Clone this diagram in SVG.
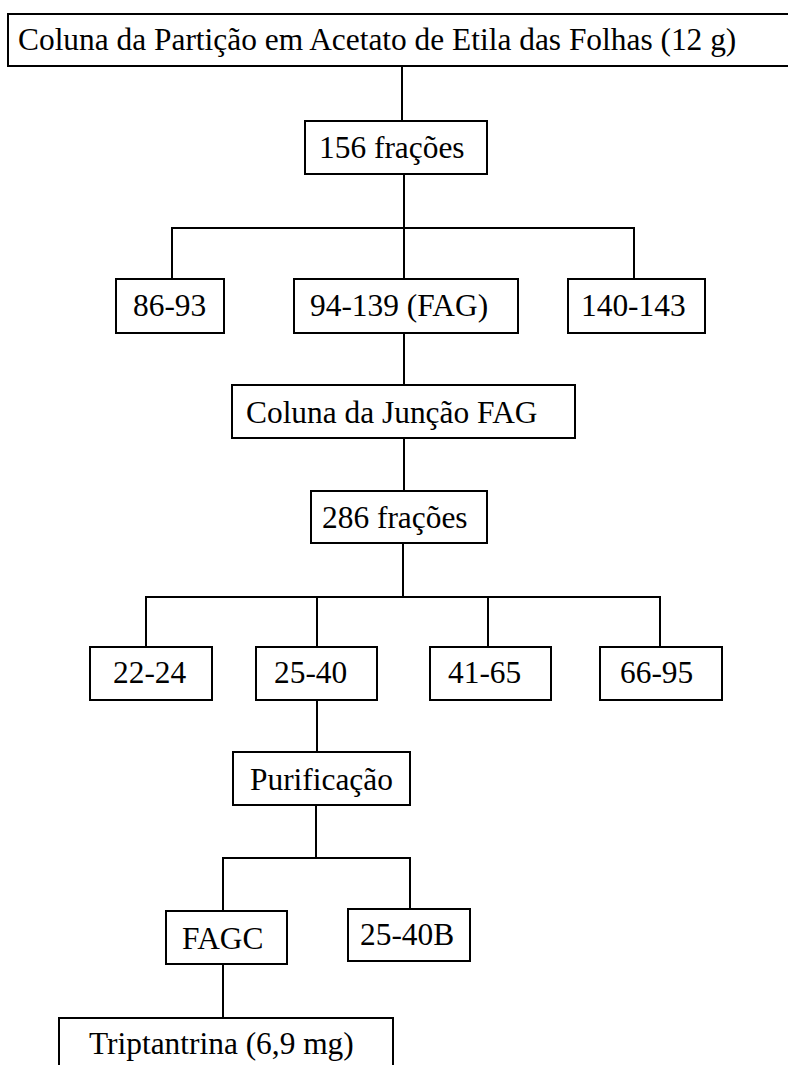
<svg xmlns="http://www.w3.org/2000/svg" width="788" height="1065" viewBox="0 0 788 1065">
  <style>
    .box { fill: #ffffff; stroke: #000000; stroke-width: 2; }
    .lbl { font-family: "Liberation Serif", "Times New Roman", serif; font-size: 31.4px; fill: #000000; }
    .wire { fill: none; stroke: #000000; stroke-width: 2; }
  </style>
  <rect x="0" y="0" width="788" height="1065" fill="#ffffff"/>

  <!-- connectors -->
  <g id="connectors" class="wire">
    <path d="M402 66 V121"/>
    <path d="M404 174 V279"/>
    <path d="M172 279 V228 H634 V279"/>
    <path d="M404 333 V385"/>
    <path d="M404 438 V491"/>
    <path d="M403 543 V597"/>
    <path d="M146 647 V597 H660 V647"/>
    <path d="M317 597 V647"/>
    <path d="M488 597 V647"/>
    <path d="M317 700 V752"/>
    <path d="M316 805 V858"/>
    <path d="M223 911 V858 H410 V909"/>
    <path d="M223 964 V1018"/>
  </g>

  <!-- nodes -->
  <g id="n-coluna-particao">
    <rect class="box" x="8" y="14" width="800" height="52"/>
    <text class="lbl" x="18" y="50">Coluna da Partição em Acetato de Etila das Folhas (12 g)</text>
  </g>
  <g id="n-156">
    <rect class="box" x="305" y="121" width="182" height="53"/>
    <text class="lbl" x="319" y="158">156 frações</text>
  </g>
  <g id="n-86-93">
    <rect class="box" x="116" y="279" width="108" height="54"/>
    <text class="lbl" x="133" y="316">86-93</text>
  </g>
  <g id="n-fag">
    <rect class="box" x="294" y="279" width="224" height="54"/>
    <text class="lbl" x="310" y="316">94-139 (FAG)</text>
  </g>
  <g id="n-140-143">
    <rect class="box" x="568" y="279" width="137" height="54"/>
    <text class="lbl" x="581" y="316">140-143</text>
  </g>
  <g id="n-juncao">
    <rect class="box" x="232" y="385" width="343" height="53"/>
    <text class="lbl" x="246" y="423">Coluna da Junção FAG</text>
  </g>
  <g id="n-286">
    <rect class="box" x="311" y="491" width="176" height="52"/>
    <text class="lbl" x="322" y="528">286 frações</text>
  </g>
  <g id="n-22-24">
    <rect class="box" x="90" y="647" width="122" height="53"/>
    <text class="lbl" x="113" y="683">22-24</text>
  </g>
  <g id="n-25-40">
    <rect class="box" x="256" y="647" width="121" height="53"/>
    <text class="lbl" x="274" y="683">25-40</text>
  </g>
  <g id="n-41-65">
    <rect class="box" x="430" y="647" width="121" height="53"/>
    <text class="lbl" x="448" y="683">41-65</text>
  </g>
  <g id="n-66-95">
    <rect class="box" x="600" y="647" width="122" height="53"/>
    <text class="lbl" x="620" y="683">66-95</text>
  </g>
  <g id="n-purificacao">
    <rect class="box" x="233" y="752" width="177" height="53"/>
    <text class="lbl" x="250" y="790">Purificação</text>
  </g>
  <g id="n-fagc">
    <rect class="box" x="166" y="911" width="121" height="53"/>
    <text class="lbl" x="182" y="949">FAGC</text>
  </g>
  <g id="n-25-40b">
    <rect class="box" x="348" y="909" width="122" height="52"/>
    <text class="lbl" x="360" y="945">25-40B</text>
  </g>
  <g id="n-triptantrina">
    <rect class="box" x="59" y="1018" width="334" height="60"/>
    <text class="lbl" x="89" y="1054">Triptantrina (6,9 mg)</text>
  </g>
</svg>
